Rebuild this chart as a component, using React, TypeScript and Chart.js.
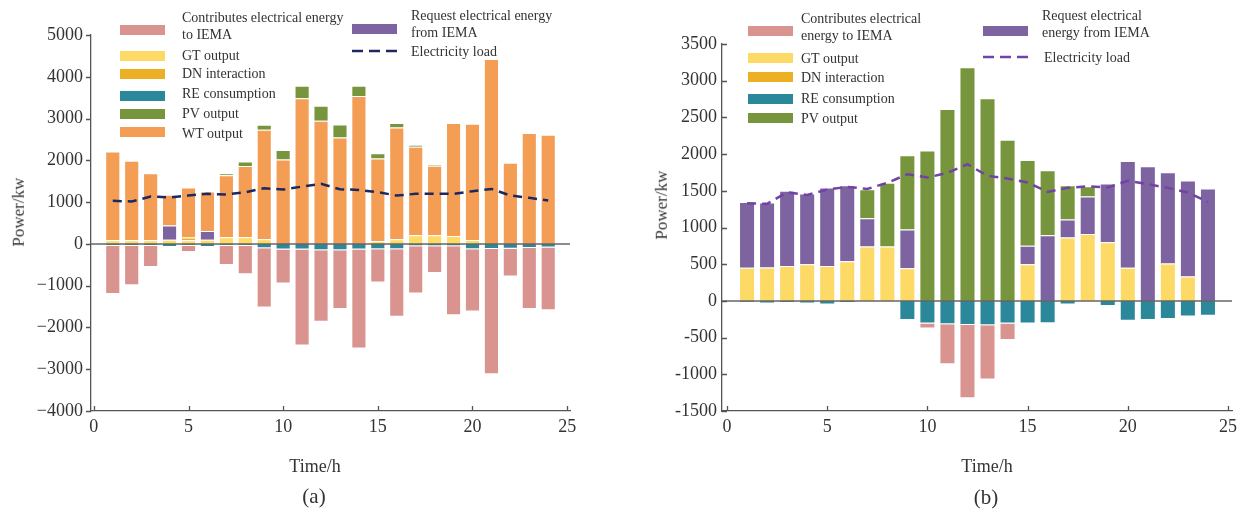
import React, { useEffect, useRef } from "react";
import { Chart, registerables } from "chart.js";

Chart.register(...registerables);

// ---------------- DATA ----------------
const hours = [1, 2, 3, 4, 5, 6, 7, 8, 9, 10, 11, 12, 13, 14, 15, 16, 17, 18, 19, 20, 21, 22, 23, 24];
const xTickValues = [0, 5, 10, 15, 20, 25];

// Chart (a)
const gtA = [90, 90, 90, 100, 85, 100, 160, 160, 110, 0, 0, 0, 0, 0, 70, 110, 207, 207, 190, 95, 0, 0, 0, 0];
const dnA = [0, 0, 0, 0, 70, 0, 0, 0, 0, 0, 0, 0, 0, 0, 0, 0, 0, 0, 0, 0, 0, 0, 0, 0];
const requestA = [0, 0, 0, 340, 0, 207, 0, 0, 0, 0, 0, 0, 0, 0, 0, 0, 0, 0, 0, 0, 0, 0, 0, 0];
const wtA = [2120, 1900, 1600, 734, 1193, 946, 1483, 1706, 2623, 2017, 3489, 2947, 2549, 3537, 1971, 2678, 2120, 1666, 2703, 2781, 4427, 1945, 2654, 2613];
const pvA = [0, 0, 0, 0, 0, 0, 47, 104, 119, 231, 294, 358, 310, 246, 127, 105, 48, 24, 0, 0, 0, 0, 0, 0];
const reA = [-48, -48, -48, -72, -48, -72, -48, -48, -103, -135, -135, -150, -150, -135, -130, -130, -55, -55, -55, -127, -120, -115, -100, -87];
const contribA = [-1150, -942, -505, 0, -147, 0, -457, -680, -1420, -815, -2295, -1716, -1406, -2366, -796, -1617, -1134, -641, -1651, -1491, -3002, -668, -1456, -1500];
const loadA = [1031, 1015, 1134, 1110, 1158, 1198, 1183, 1237, 1332, 1300, 1372, 1436, 1308, 1292, 1237, 1158, 1198, 1198, 1198, 1261, 1316, 1158, 1103, 1039];
const yTicksA = { min: -4000, max: 5000, step: 1000 };

// Chart (b)
const gtB = [450, 455, 477, 500, 477, 541, 741, 741, 445, 0, 0, 0, 0, 0, 500, 0, 864, 913, 800, 450, 0, 509, 332, 0];
const dnB = [0, 0, 0, 0, 0, 0, 0, 0, 0, 0, 0, 0, 0, 0, 0, 0, 0, 0, 0, 0, 0, 0, 0, 0];
const requestB = [899, 885, 1022, 963, 1068, 1035, 386, 0, 528, 0, 0, 0, 0, 0, 250, 895, 245, 509, 799, 1457, 1835, 1244, 1308, 1531];
const pvB = [0, 0, 0, 0, 0, 0, 395, 867, 1012, 2049, 2616, 3184, 2762, 2194, 1171, 886, 467, 141, 0, 0, 0, 0, 0, 0];
const reB = [-22, -36, -27, -36, -50, -27, 0, 0, -259, -308, -317, -327, -331, -308, -308, -304, -50, 0, -68, -272, -259, -245, -213, -204];
const contribB = [0, 0, 0, 0, 0, 0, 0, 0, 0, -68, -545, -999, -740, -223, 0, 0, 0, 0, 0, 0, 0, 0, 0, 0];
const loadB = [1331, 1322, 1481, 1444, 1517, 1553, 1526, 1608, 1726, 1681, 1744, 1862, 1703, 1667, 1613, 1485, 1540, 1563, 1545, 1635, 1590, 1540, 1477, 1349];
const yTicksB = { min: -1500, max: 3500, step: 500 };

// Labels
const LBL_CONTRIB_A = ["Contributes electrical energy", "to IEMA"];
const LBL_CONTRIB_B = ["Contributes electrical", "energy to IEMA"];
const LBL_REQUEST_A = ["Request electrical energy", "from IEMA"];
const LBL_REQUEST_B = ["Request electrical", "energy from IEMA"];
const LBL_GT = "GT output";
const LBL_DN = "DN interaction";
const LBL_RE = "RE consumption";
const LBL_PV = "PV output";
const LBL_WT = "WT output";
const LBL_LOAD = "Electricity load";

// ---------------- STYLE ----------------
const SERIF = '"Liberation Serif", "DejaVu Serif", "Times New Roman", serif';
const TEXT = "#333333";
const AXIS = "#555555";
const C_CONTRIB = "#D9948F";
const C_GT = "#FDD966";
const C_DN = "#EBB023";
const C_RE = "#2B889B";
const C_PV = "#76953D";
const C_WT = "#F49E55";
const C_REQ = "#7D64A0";
const C_LOAD_A = "#1C2860";
const C_LOAD_B = "#7242A6";

type BarSeries = { label: string; values: number[]; color: string };
type Spec = {
  left: number;
  width: number;
  bars: BarSeries[];
  load: number[];
  loadColor: string;
  yTicks: { min: number; max: number; step: number };
  xMin: number;
  xMax: number;
  padding: { left: number; right: number; top: number; bottom: number };
  yOut: boolean;
  unicodeMinus: boolean;
};

const axisTicksPlugin = {
  id: "axisTicks",
  afterDatasetsDraw(chart: any) {
    const { ctx, chartArea, scales } = chart;
    const y0 = scales.y.getPixelForValue(0);
    ctx.save();
    ctx.strokeStyle = "#666666";
    ctx.lineWidth = 1.5;
    ctx.beginPath();
    ctx.moveTo(chartArea.left, y0);
    ctx.lineTo(chartArea.right, y0);
    ctx.stroke();
    ctx.restore();
  },
  afterDraw(chart: any, _args: any, opts: any) {
    const { ctx, chartArea, scales } = chart;
    ctx.save();
    ctx.strokeStyle = AXIS;
    ctx.lineWidth = 1.3;
    ctx.beginPath();
    for (const t of scales.y.ticks) {
      const y = Math.round(scales.y.getPixelForValue(t.value)) + 0.5;
      const dx = opts.yOut ? -5 : 5;
      ctx.moveTo(chartArea.left, y);
      ctx.lineTo(chartArea.left + dx, y);
    }
    for (const t of scales.x.ticks) {
      const x = Math.round(scales.x.getPixelForValue(t.value)) + 0.5;
      ctx.moveTo(x, chartArea.bottom);
      ctx.lineTo(x, chartArea.bottom - 5);
    }
    ctx.stroke();
    ctx.restore();
  },
};

function buildConfig(spec: Spec): any {
  const barSets = spec.bars.map((b) => ({
    type: "bar",
    label: b.label,
    data: hours.map((h, i) => ({ x: h, y: b.values[i] === 0 ? null : b.values[i] })),
    backgroundColor: b.color,
    borderColor: "rgba(255,255,255,0.45)",
    borderWidth: 1,
    stack: "p",
    order: 1,
    categoryPercentage: 1,
    barPercentage: 0.8,
  }));
  const lineSet = {
    type: "line",
    label: LBL_LOAD,
    data: hours.map((h, i) => ({ x: h, y: spec.load[i] })),
    borderColor: spec.loadColor,
    borderWidth: 2.5,
    borderDash: [9, 6],
    pointRadius: 0,
    fill: false,
    tension: 0,
    stack: "load",
    order: 0,
  };
  const tickFont = { family: SERIF, size: 18 };
  return {
    type: "bar",
    data: { datasets: [lineSet, ...barSets] },
    options: {
      responsive: false,
      animation: false,
      layout: { padding: spec.padding },
      plugins: {
        legend: { display: false },
        tooltip: { enabled: false },
        axisTicks: { yOut: spec.yOut },
      },
      scales: {
        x: {
          type: "linear",
          min: spec.xMin,
          max: spec.xMax,
          offset: false,
          stacked: true,
          grid: { display: false, drawTicks: false },
          border: { display: true, color: AXIS, width: 1.3 },
          afterBuildTicks: (s: any) => {
            s.ticks = xTickValues.map((v) => ({ value: v }));
          },
          afterFit: (s: any) => {
            s.height = 40;
          },
          ticks: {
            font: tickFont,
            color: TEXT,
            padding: 5,
            maxRotation: 0,
            autoSkip: false,
            callback: (v: any) => String(v),
          },
        },
        y: {
          type: "linear",
          min: spec.yTicks.min,
          max: spec.yTicks.max,
          stacked: true,
          grid: { display: false, drawTicks: false },
          border: { display: true, color: AXIS, width: 1.3 },
          afterFit: (s: any) => {
            s.width = 80;
          },
          ticks: {
            stepSize: spec.yTicks.step,
            font: tickFont,
            color: TEXT,
            padding: spec.yOut ? 8 : 5,
            callback: (v: any) => {
              const n = Number(v);
              if (spec.unicodeMinus && n < 0) return "\u2212" + Math.abs(n);
              return String(n);
            },
          },
        },
      },
    },
    plugins: [axisTicksPlugin],
  };
}

function ChartPanel({ spec }: { spec: Spec }) {
  const ref = useRef<HTMLCanvasElement>(null);
  useEffect(() => {
    const chart = new Chart(ref.current as HTMLCanvasElement, buildConfig(spec));
    return () => chart.destroy();
  }, []);
  return (
    <canvas
      ref={ref}
      width={spec.width}
      height={512}
      style={{ position: "absolute", left: spec.left, top: 0, width: spec.width, height: 512 }}
    />
  );
}

type LegendItem = {
  kind: "box" | "dash";
  color: string;
  sx: number;
  sy: number;
  tx: number;
  ty: number;
  lines: string[];
};

function Legend({ items }: { items: LegendItem[] }) {
  return (
    <>
      {items.map((it, k) => (
        <React.Fragment key={k}>
          {it.kind === "box" ? (
            <div
              style={{
                position: "absolute",
                left: it.sx,
                top: it.sy - 5,
                width: 45,
                height: 10,
                background: it.color,
              }}
            />
          ) : (
            <svg
              width={45}
              height={6}
              style={{ position: "absolute", left: it.sx, top: it.sy - 3 }}
            >
              <line x1={0} y1={3} x2={45} y2={3} stroke={it.color} strokeWidth={2.5} strokeDasharray="11 6" />
            </svg>
          )}
          <div
            style={{
              position: "absolute",
              left: it.tx,
              top: it.ty - 8.5,
              font: `14px ${SERIF}`,
              lineHeight: "17px",
              color: TEXT,
              whiteSpace: "nowrap",
            }}
          >
            {it.lines.map((l, j) => (
              <div key={j}>{l}</div>
            ))}
          </div>
        </React.Fragment>
      ))}
    </>
  );
}

function Title({ text, cx, cy, size, rotate }: { text: string; cx: number; cy: number; size: number; rotate?: boolean }) {
  return (
    <div
      style={{
        position: "absolute",
        left: cx - 100,
        top: cy - size * 0.6,
        width: 200,
        height: size * 1.2,
        lineHeight: `${size * 1.2}px`,
        textAlign: "center",
        font: `${size}px ${SERIF}`,
        color: TEXT,
        whiteSpace: "nowrap",
        transform: rotate ? "rotate(-90deg)" : undefined,
      }}
    >
      {text}
    </div>
  );
}

const specA: Spec = {
  left: 0,
  width: 615,
  bars: [
    { label: LBL_GT, values: gtA, color: C_GT },
    { label: LBL_DN, values: dnA, color: C_DN },
    { label: LBL_RE, values: reA, color: C_RE },
    { label: LBL_REQUEST_A.join(" "), values: requestA, color: C_REQ },
    { label: LBL_WT, values: wtA, color: C_WT },
    { label: LBL_PV, values: pvA, color: C_PV },
    { label: LBL_CONTRIB_A.join(" "), values: contribA, color: C_CONTRIB },
  ],
  load: loadA,
  loadColor: C_LOAD_A,
  yTicks: yTicksA,
  xMin: -0.15,
  xMax: 25.15,
  padding: { left: 11, right: 45, top: 35, bottom: 61 },
  yOut: true,
  unicodeMinus: true,
};

const specB: Spec = {
  left: 630,
  width: 623,
  bars: [
    { label: LBL_GT, values: gtB, color: C_GT },
    { label: LBL_DN, values: dnB, color: C_DN },
    { label: LBL_RE, values: reB, color: C_RE },
    { label: LBL_REQUEST_B.join(" "), values: requestB, color: C_REQ },
    { label: LBL_PV, values: pvB, color: C_PV },
    { label: LBL_CONTRIB_B.join(" "), values: contribB, color: C_CONTRIB },
  ],
  load: loadB,
  loadColor: C_LOAD_B,
  yTicks: yTicksB,
  xMin: -0.25,
  xMax: 25.2,
  padding: { left: 12, right: 21, top: 44, bottom: 61 },
  yOut: false,
  unicodeMinus: false,
};

const legendA: LegendItem[] = [
  { kind: "box", color: C_CONTRIB, sx: 120, sy: 29.5, tx: 182, ty: 17, lines: LBL_CONTRIB_A },
  { kind: "box", color: C_GT, sx: 120, sy: 56, tx: 182, ty: 55, lines: [LBL_GT] },
  { kind: "box", color: C_DN, sx: 120, sy: 74, tx: 182, ty: 73, lines: [LBL_DN] },
  { kind: "box", color: C_RE, sx: 120, sy: 95.5, tx: 182, ty: 93, lines: [LBL_RE] },
  { kind: "box", color: C_PV, sx: 120, sy: 113.5, tx: 182, ty: 113, lines: [LBL_PV] },
  { kind: "box", color: C_WT, sx: 120, sy: 131.5, tx: 182, ty: 133, lines: [LBL_WT] },
  { kind: "box", color: C_REQ, sx: 352, sy: 29, tx: 411, ty: 15, lines: LBL_REQUEST_A },
  { kind: "dash", color: C_LOAD_A, sx: 352, sy: 51, tx: 411, ty: 51, lines: [LBL_LOAD] },
];

const legendB: LegendItem[] = [
  { kind: "box", color: C_CONTRIB, sx: 748, sy: 31, tx: 801, ty: 18, lines: LBL_CONTRIB_B },
  { kind: "box", color: C_GT, sx: 748, sy: 58, tx: 801, ty: 58, lines: [LBL_GT] },
  { kind: "box", color: C_DN, sx: 748, sy: 77, tx: 801, ty: 77, lines: [LBL_DN] },
  { kind: "box", color: C_RE, sx: 748, sy: 99, tx: 801, ty: 98, lines: [LBL_RE] },
  { kind: "box", color: C_PV, sx: 748, sy: 118, tx: 801, ty: 118, lines: [LBL_PV] },
  { kind: "box", color: C_REQ, sx: 983, sy: 31, tx: 1042, ty: 15, lines: LBL_REQUEST_B },
  { kind: "dash", color: C_LOAD_B, sx: 983, sy: 57, tx: 1044, ty: 57, lines: [LBL_LOAD] },
];

export default function App() {
  return (
    <div
      style={{
        position: "absolute",
        left: 0,
        top: 0,
        width: 1253,
        height: 512,
        background: "#ffffff",
        overflow: "hidden",
      }}
    >
      <ChartPanel spec={specA} />
      <ChartPanel spec={specB} />
      <Legend items={legendA} />
      <Legend items={legendB} />
      <Title text="Power/kw" cx={19} cy={212} size={17} rotate />
      <Title text="Time/h" cx={315} cy={467} size={18} />
      <Title text="(a)" cx={314} cy={497} size={21} />
      <Title text="Power/kw" cx={662} cy={205} size={17} rotate />
      <Title text="Time/h" cx={987} cy={467} size={18} />
      <Title text="(b)" cx={986} cy={498} size={21} />
    </div>
  );
}
